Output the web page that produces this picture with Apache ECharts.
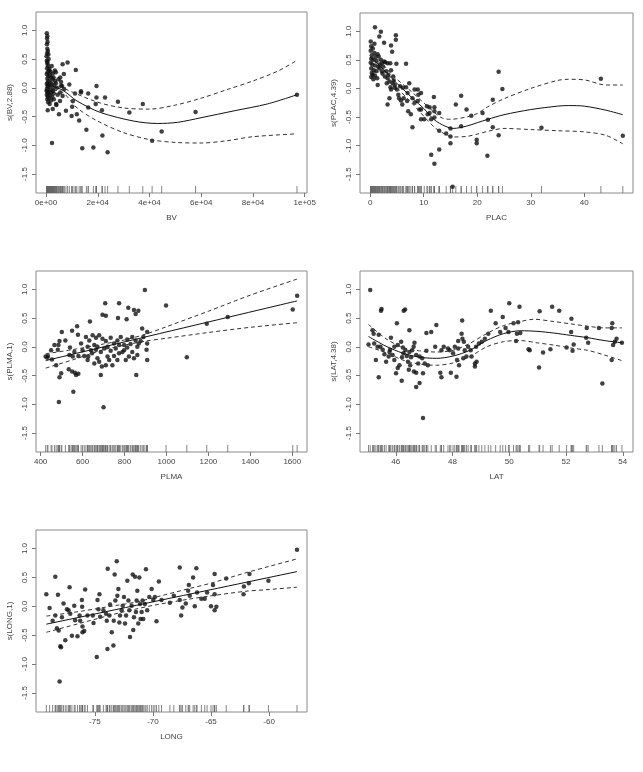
<!DOCTYPE html>
<html>
<head>
<meta charset="utf-8">
<script src="https://cdn.jsdelivr.net/npm/echarts@6/dist/echarts.min.js"></script>
<style>
html, body { margin: 0; padding: 0; background: #fff; }
#main { width: 643px; height: 772px; }
</style>
</head>
<body>
<div id="main"></div>
<script>
// shared y scale of the partial residual plots
var yMin = -1.83, yMax = 1.32;
var yTicks = [-1.5, -1, -0.5, 0, 0.5, 1];

// ---- BV ----
var bvTicks = [0, 20000, 40000, 60000, 80000, 100000];
var bvPoints = [
	[300,0.95],[500,0.90],[400,0.86],[600,0.80],[350,0.76],[500,0.68],[700,0.64],[450,0.60],[900,0.58],
	[300,0.47],[500,0.42],[800,0.38],[400,0.34],[1200,0.30],[600,0.27],[300,0.24],[1500,0.22],[900,0.20],
	[2000,0.18],[500,0.16],[2500,0.15],[1100,0.12],[700,0.10],[1800,0.09],[300,0.07],[2200,0.06],[1000,0.04],
	[600,0.03],[1500,0.01],[400,-0.01],[2800,-0.02],[800,-0.04],[1300,-0.05],[500,-0.07],[2000,-0.08],[900,-0.10],
	[300,-0.12],[1600,-0.13],[700,-0.15],[2400,-0.16],[1100,-0.18],[500,-0.20],[1900,-0.22],[800,-0.25],[3000,-0.10],
	[3200,0.05],[3500,0.12],[3000,-0.20],[2600,0.25],[4200,0.00],[4500,-0.12],[3800,0.08],[1300,0.33],[200,0.55],
	[1000,0.50],[2200,0.38],[3400,0.30],[2700,-0.05],[4800,0.15],[4000,-0.30],[1400,-0.28],[600,0.45],[1700,0.28],
	[2900,0.18],[200,-0.05],[5500,-0.08],[6200,0.03],[7000,-0.02],[5800,0.10],
	[6400,0.41],[8330,0.44],[11500,0.31],[6900,0.24],[19500,0.03],[13500,-0.08],[16300,-0.10],[19500,-0.17],
	[22800,-0.17],[27800,-0.24],[19200,-0.28],[21600,-0.39],[32200,-0.43],[37400,-0.28],[57800,-0.42],[44700,-0.76],
	[41000,-0.92],[97000,-0.12],[15600,-0.73],[21800,-0.83],[14000,-1.05],[18300,-1.04],[23800,-1.12],[2300,-0.96],
	[12800,-0.57],[9900,-0.49],[11900,-0.46],[5000,-0.46],[10100,-0.33],[16300,-0.34],[7700,-0.40],[650,-0.39],
	[2600,-0.37],[10400,-0.23],[9000,0.06],[5800,0.03],[11200,-0.10],[13500,-0.06],[5400,-0.23],[3900,-0.28],
	[6400,-0.14],[5500,0.18],[3800,0.27]
];
var bvFit = [[0,0.06],[6400,-0.04],[12000,-0.23],[21100,-0.43],[34100,-0.58],[43100,-0.62],[50900,-0.60],[59900,-0.52],[72700,-0.40],[85600,-0.28],[97000,-0.12]];
var bvUpper = [[0,0.14],[6400,0.00],[20000,-0.25],[30000,-0.35],[40000,-0.37],[50000,-0.30],[60000,-0.18],[70000,-0.03],[80000,0.12],[90000,0.30],[97000,0.48]];
var bvLower = [[0,-0.02],[6400,-0.08],[12000,-0.35],[20000,-0.58],[30000,-0.78],[40000,-0.90],[50000,-0.95],[60000,-0.96],[70000,-0.92],[80000,-0.85],[97000,-0.80]];

// ---- PLAC ----
var placTicks = [0, 10, 20, 30, 40];
var placPoints = [
	[0.1,0.82],[0.2,0.74],[0.5,0.70],[0.1,0.66],[0.8,0.62],[0.3,0.58],[1.0,0.55],[0.2,0.52],[0.6,0.50],[1.2,0.48],
	[0.1,0.45],[0.4,0.42],[0.9,0.40],[1.5,0.38],[0.2,0.35],[0.7,0.32],[1.1,0.30],[0.3,0.27],[0.5,0.24],[0.9,0.22],
	[0.2,0.20],[1.3,0.18],[0.6,0.16],[1.8,0.42],[2.0,0.50],[2.4,0.38],[1.6,0.56],[2.8,0.46],[3.0,0.30],[3.4,0.24],
	[3.6,0.12],[4.4,0.14],[4.6,0.06],[3.8,0.02],[5.6,0.04],[1.4,0.60],[0.8,0.78],[2.2,0.30],
	[0.9,1.07],[2.0,0.99],[1.7,0.91],[2.6,0.80],[4.8,0.93],[4.8,0.85],[3.9,0.75],[4.1,0.64],[4.9,0.43],[6.7,0.43],
	[1.4,0.06],[3.25,0.18],[3.25,-0.28],[7.9,-0.68],[17,-0.13],[16,-0.28],[18,-0.37],[18.9,-0.48],[17,-0.66],
	[19.9,-0.90],[19.9,-0.96],[22,-0.55],[21.9,-1.18],[22.9,-0.20],[24,0.29],[24.7,-0.01],[22.9,-0.68],[24,-0.82],
	[21,-0.43],[32,-0.69],[43.1,0.17],[47.2,-0.83],[15.4,-1.72],[11.4,-1.16],[12,-1.32],[12.9,-1.07],[15,-0.96],
	[15,-0.84],[15,-0.70],[14.2,-0.79],[12.9,-0.74],[12.9,-0.43],[12,-0.51],[12,-0.40],[12,-0.33],[11.9,-0.15],
	[11.1,-0.43],[11.1,-0.33],[10.1,-0.54],[9.5,-0.54],[9.2,-0.37],[8.9,-0.22],[9,-0.11],[8.9,-0.02],[8.3,-0.25],
	[7.9,-0.17],[7.6,-0.45],[7.1,-0.40],[6.7,0.02],[6.1,0.01],[6.25,-0.17],[5.75,-0.21],[5.25,-0.11],[5.0,-0.02],
	[4.2,0.09],[3.9,-0.02],[3.6,-0.17],[4.3,0.21],[3.9,0.32],[3.25,0.44],[2.6,0.47],[2.2,0.44],[1.7,0.35],[2.3,0.26],
	[2.75,0.21],[3.1,0.09],[3.75,0.44],[7,-0.08],[7.3,0.09],[8.3,-0.02],[9.5,-0.08],[10.6,-0.31],[10.75,-0.45],
	[11.4,-0.54],[9.5,-0.37],[6.9,-0.22],[6,-0.28],[5.4,-0.17],[4.6,0.01]
];
var placFit = [[0,0.55],[2,0.38],[4,0.18],[6,0.0],[8,-0.18],[10,-0.35],[12,-0.55],[14,-0.66],[15.5,-0.70],[18,-0.66],[20,-0.60],[22,-0.54],[25,-0.46],[30,-0.37],[35,-0.31],[37,-0.30],[40,-0.31],[44,-0.38],[47.2,-0.46]];
var placUpper = [[0,0.70],[4,0.25],[8,-0.08],[12,-0.42],[13.5,-0.52],[15,-0.54],[18,-0.50],[20,-0.44],[22,-0.32],[25,-0.18],[30,0.0],[35,0.14],[37,0.16],[40,0.15],[44,0.06],[47.2,0.06]];
var placLower = [[0,0.40],[4,0.10],[8,-0.28],[12,-0.68],[14,-0.80],[15.5,-0.85],[18,-0.84],[20,-0.80],[22,-0.75],[25,-0.70],[30,-0.72],[35,-0.74],[40,-0.76],[44,-0.82],[47.2,-0.97]];

// ---- PLMA ----
var plmaTicks = [400, 600, 800, 1000, 1200, 1400, 1600];
var plmaPoints = [
	[897,0.99],[708,0.76],[774,0.76],[998,0.72],[818,0.68],[845,0.64],[866,0.63],[853,0.57],[695,0.56],[711,0.54],
	[769,0.50],[810,0.48],[635,0.44],[574,0.36],[550,0.28],[501,0.26],[578,0.21],[1292,0.52],[1192,0.40],[1602,0.65],
	[1623,0.89],[1097,-0.18],[487,-0.96],[700,-1.05],[556,-0.78],[490,-0.53],[498,-0.46],[534,-0.39],[550,-0.43],
	[564,-0.45],[580,-0.47],[569,-0.49],[856,-0.49],[687,-0.49],[908,-0.23],[435,-0.16],[454,-0.22],[474,-0.32],
	[482,-0.05],[485,0.03],[490,0.10],[518,0.11],[540,-0.01],[561,-0.09],[580,-0.16],[627,-0.17],[645,-0.11],
	[664,-0.05],[679,-0.26],[692,-0.34],[711,-0.32],[727,-0.23],[750,-0.16],[774,-0.11],[798,-0.06],[821,-0.17],
	[837,-0.09],[861,0.0],[877,0.10],[890,0.17],[908,0.26],[884,0.32],[908,0.06],[905,-0.05],[616,0.17],[632,0.11],
	[648,0.20],[664,0.16],[679,0.20],[695,0.14],[711,0.10],[734,0.16],[750,0.06],[766,0.11],[782,0.17],[798,0.03],
	[813,0.13],[837,0.17],[853,0.11],[868,0.06],[624,0.0],[640,-0.06],[656,0.03],[671,0.0],[687,-0.09],[703,-0.03],
	[719,0.0],[734,-0.07],[758,-0.03],[774,0.03],[790,-0.09],[813,-0.01],[829,0.05],[624,-0.23],[656,-0.29],
	[671,-0.20],[719,-0.17],[742,-0.32],[766,-0.23],[806,-0.23],[845,-0.20],[861,-0.14],[450,-0.06],[466,0.03],
	[537,-0.14],[553,-0.17],[600,-0.06],[608,-0.16],[593,0.06],[432,-0.19],[424,-0.17]
];
var plmaFit = [[424,-0.24],[1623,0.80]];
var plmaUpper = [[424,-0.12],[550,-0.05],[700,0.05],[800,0.12],[900,0.22],[1000,0.35],[1200,0.62],[1400,0.90],[1623,1.18]];
var plmaLower = [[424,-0.37],[550,-0.23],[700,-0.05],[800,0.03],[900,0.10],[1000,0.15],[1200,0.25],[1400,0.34],[1623,0.42]];

// ---- LAT ----
var latTicks = [46, 48, 50, 52, 54];
var latPoints = [
	[45.10,0.99],[45.48,0.63],[45.50,0.66],[46.28,0.63],[46.33,0.65],[46.04,0.41],[46.48,0.29],[47.43,0.38],[47.08,0.24],
	[47.25,0.26],[48.34,0.46],[49.35,0.63],[50.0,0.76],[50.36,0.70],[49.77,0.52],[50.15,0.41],[50.31,0.43],[51.07,0.62],
	[51.51,0.70],[51.76,0.63],[52.19,0.49],[52.73,0.33],[53.16,0.33],[53.61,0.33],[53.63,0.41],[53.97,0.07],[53.61,-0.23],
	[53.28,-0.64],[51.05,-0.36],[51.19,-0.10],[51.45,-0.04],[50.68,-0.04],[50.72,-0.06],[52.02,-0.01],[52.23,-0.07],
	[52.27,0.04],[52.18,0.26],[52.71,0.16],[52.78,0.07],[53.78,0.14],[53.72,0.09],[53.66,0.03],[50.24,0.10],[50.39,0.24],
	[50.27,0.23],[49.97,0.26],[49.87,0.33],[49.68,0.26],[49.52,0.41],[49.26,0.23],[49.14,0.14],[49.03,0.09],[48.93,0.06],
	[48.83,0.0],[48.79,-0.29],[48.79,-0.34],[48.85,-0.26],[48.67,-0.17],[48.64,-0.06],[48.55,0.0],[48.43,-0.06],
	[48.49,-0.17],[48.38,-0.20],[48.40,0.09],[48.35,0.14],[48.32,0.23],[48.20,0.10],[48.20,-0.03],[48.16,-0.23],
	[48.23,-0.32],[48.02,-0.11],[48.08,0.0],[48.14,-0.52],[47.90,-0.06],[47.84,-0.03],[47.69,0.0],[47.61,-0.06],
	[47.57,-0.45],[47.61,-0.53],[47.94,-0.45],[47.39,0.0],[46.96,-0.46],[46.93,-0.20],[46.84,-0.17],[46.79,-0.29],
	[46.72,-0.14],[46.66,0.07],[46.63,0.0],[46.58,-0.06],[46.54,-0.18],[46.51,-0.32],[46.43,-0.26],[46.46,-0.40],
	[46.64,-0.43],[46.72,-0.45],[46.84,-0.63],[46.72,-0.70],[46.96,-1.24],[46.21,-0.59],[46.01,-0.46],[46.07,-0.37],
	[46.13,-0.32],[46.22,-0.18],[46.27,-0.11],[46.34,-0.06],[46.25,-0.01],[46.19,0.09],[46.07,0.03],[45.95,0.0],
	[45.80,-0.05],[45.78,-0.09],[45.75,-0.17],[45.83,0.16],[45.66,-0.26],[45.60,-0.13],[45.54,-0.05],[45.46,0.0],
	[45.40,0.21],[45.30,-0.23],[45.40,-0.53],[45.24,0.06],[45.18,0.29],[45.22,0.23],[45.04,0.04],[45.36,0.0],
	[47.08,-0.07],[47.02,-0.29],[47.13,-0.32],[46.48,-0.09],[46.39,-0.16],[45.95,-0.23],[45.89,-0.14]
];
var latFit = [[45.04,0.18],[45.66,0.01],[46.25,-0.11],[46.84,-0.18],[47.43,-0.20],[48.02,-0.16],[48.61,-0.06],[49.2,0.11],[49.8,0.23],[50.39,0.28],[50.98,0.27],[51.57,0.24],[52.16,0.20],[52.75,0.16],[53.34,0.11],[53.97,0.07]];
var latUpper = [[45.04,0.39],[45.66,0.14],[46.25,-0.01],[46.84,-0.07],[47.43,-0.09],[48.02,-0.06],[48.61,0.06],[49.2,0.23],[49.8,0.37],[50.39,0.44],[50.86,0.48],[51.57,0.44],[52.16,0.40],[52.75,0.36],[53.34,0.33],[53.97,0.33]];
var latLower = [[45.04,0.0],[45.66,-0.10],[46.25,-0.23],[46.84,-0.30],[47.43,-0.32],[48.02,-0.28],[48.61,-0.17],[49.2,0.0],[49.8,0.09],[50.39,0.11],[50.98,0.07],[51.57,0.03],[52.16,-0.02],[52.75,-0.06],[53.34,-0.14],[53.97,-0.24]];

// ---- LONG ----
var longTicks = [-75, -70, -65, -60];
var longPoints = [
	[-79.17,0.21],[-78.89,-0.03],[-78.63,-0.25],[-78.4,0.51],[-78.4,-0.16],[-78.26,-0.38],[-78.11,-0.42],[-78.17,0.20],
	[-78.03,-1.30],[-77.91,-0.71],[-77.97,-0.69],[-77.83,-0.19],[-77.69,0.05],[-77.54,-0.59],[-77.4,-0.05],[-77.26,-0.07],
	[-77.17,0.33],[-77.11,-0.13],[-76.97,-0.51],[-76.77,0.01],[-76.69,-0.24],[-76.49,-0.52],[-76.31,-0.16],[-76.26,-0.25],
	[-76.11,0.11],[-76.09,-0.01],[-76.06,-0.35],[-76.06,-0.45],[-75.91,-0.43],[-75.83,0.29],[-75.63,-0.16],[-75.17,-0.16],
	[-75.11,-0.29],[-74.83,-0.88],[-74.77,0.11],[-74.69,-0.05],[-74.6,0.21],[-74.54,-0.18],[-74.26,-0.07],[-74.03,-0.13],
	[-73.97,-0.25],[-73.91,-0.74],[-73.89,0.65],[-73.74,-0.16],[-73.69,0.03],[-73.54,-0.45],[-73.4,-0.68],[-73.37,-0.25],
	[-73.29,0.55],[-73.23,0.10],[-73.11,0.78],[-73.06,0.18],[-72.97,0.30],[-72.89,-0.28],[-72.83,-0.16],[-72.69,-0.07],
	[-72.6,0.01],[-72.49,0.16],[-72.4,-0.30],[-72.31,-0.16],[-72.2,0.44],[-72.11,0.10],[-72.03,-0.07],[-71.97,-0.53],
	[-71.83,0.01],[-71.74,0.55],[-71.69,-0.41],[-71.63,-0.19],[-71.54,0.51],[-71.46,-0.10],[-71.4,0.10],[-71.34,0.27],
	[-71.26,-0.30],[-71.17,0.50],[-71.11,0.04],[-71.06,-0.22],[-70.97,-0.10],[-70.89,0.10],[-70.83,-0.22],[-70.69,0.04],
	[-70.6,0.64],[-70.49,-0.07],[-70.31,0.16],[-70.11,0.30],[-69.97,0.11],[-69.83,0.16],[-69.69,-0.26],[-69.49,0.43],
	[-69.26,0.11],[-68.54,0.06],[-68.2,0.18],[-67.69,0.67],[-67.69,0.11],[-67.57,-0.16],[-67.46,-0.02],[-67.17,0.05],
	[-66.97,0.27],[-66.91,0.37],[-66.83,0.18],[-66.54,0.50],[-66.4,0.0],[-66.26,0.66],[-66.2,0.24],[-65.83,0.13],
	[-65.54,0.13],[-65.34,0.24],[-65.0,0.0],[-64.83,0.37],[-64.69,-0.07],[-64.69,0.56],[-64.69,0.21],[-64.54,-0.01],
	[-63.69,0.48],[-62.2,0.21],[-62.17,0.34],[-61.74,0.40],[-61.69,0.56],[-60.06,0.44],[-57.6,0.98]
];
var longFit = [[-79.17,-0.31],[-57.6,0.60]];
var longUpper = [[-79.17,-0.17],[-76,-0.08],[-73,0.02],[-71.5,0.07],[-70,0.145],[-67,0.30],[-65,0.40],[-62,0.58],[-60,0.69],[-57.6,0.82]];
var longLower = [[-79.17,-0.45],[-76,-0.28],[-73,-0.12],[-71.5,-0.05],[-70,0.015],[-67,0.12],[-65,0.18],[-62,0.26],[-60,0.29],[-57.6,0.33]];

var panels = [
	{ grid: { left: 36, top: 12, width: 271, height: 181 }, xMin: -3880, xMax: 100880, xTicks: bvTicks, xName: 'BV', yName: 's(BV,2.88)',
	  points: bvPoints, fit: bvFit, upper: bvUpper, lower: bvLower, smooth: true, sci: true },
	{ grid: { left: 360, top: 13, width: 273, height: 180 }, xMin: -1.9, xMax: 49.1, xTicks: placTicks, xName: 'PLAC', yName: 's(PLAC,4.39)',
	  points: placPoints, fit: placFit, upper: placUpper, lower: placLower, smooth: true },
	{ grid: { left: 36, top: 271, width: 271, height: 181 }, xMin: 378, xMax: 1670, xTicks: plmaTicks, xName: 'PLMA', yName: 's(PLMA,1)',
	  points: plmaPoints, fit: plmaFit, upper: plmaUpper, lower: plmaLower, smooth: true },
	{ grid: { left: 360, top: 271, width: 273, height: 181 }, xMin: 44.74, xMax: 54.36, xTicks: latTicks, xName: 'LAT', yName: 's(LAT,4.38)',
	  points: latPoints, fit: latFit, upper: latUpper, lower: latLower, smooth: true },
	{ grid: { left: 36, top: 530, width: 271, height: 182 }, xMin: -80.06, xMax: -56.74, xTicks: longTicks, xName: 'LONG', yName: 's(LONG,1)',
	  points: longPoints, fit: longFit, upper: longUpper, lower: longLower, smooth: true }
];

function sciLabel(v) {
	if (v == 0) return '0e+00';
	var e = Math.floor(Math.log10(Math.abs(v)));
	var m = Math.round(v / Math.pow(10, e));
	return m + 'e+' + (e < 10 ? '0' + e : e);
}

var textStyle = { fontFamily: 'Liberation Sans, Arial, sans-serif', fontSize: 8, color: '#444' };
var grids = [], xAxes = [], yAxes = [], series = [];

panels.forEach(function(p, i) {
	grids.push(Object.assign({ show: true, borderColor: '#8a8a8a', borderWidth: 1, backgroundColor: '#fff' }, p.grid));
	xAxes.push({
		gridIndex: i, type: 'value', min: p.xMin, max: p.xMax, position: 'bottom',
		name: p.xName, nameLocation: 'middle', nameGap: 21, nameTextStyle: textStyle,
		axisLine: { show: false, onZero: false },
		axisTick: { show: true, length: 4, customValues: p.xTicks, lineStyle: { color: '#777' } },
		axisLabel: Object.assign({ margin: 6, customValues: p.xTicks, showMinLabel: true, showMaxLabel: true,
			formatter: p.sci ? sciLabel : function(v) { return String(v); } }, textStyle),
		splitLine: { show: false }
	});
	yAxes.push({
		gridIndex: i, type: 'value', min: yMin, max: yMax, position: 'left',
		name: p.yName, nameLocation: 'middle', nameGap: 22, nameTextStyle: textStyle,
		axisLine: { show: false, onZero: false },
		axisTick: { show: true, length: 4, customValues: yTicks, lineStyle: { color: '#777' } },
		axisLabel: Object.assign({ margin: 7, rotate: 90, customValues: yTicks,
			formatter: function(v) { return v.toFixed(1); } }, textStyle),
		splitLine: { show: false }
	});
	// rug along the bottom of the plot box
	series.push({
		type: 'scatter', xAxisIndex: i, yAxisIndex: i, silent: true,
		symbol: 'rect', symbolSize: [1, 7], symbolOffset: [0, -3.5],
		itemStyle: { color: '#666', opacity: 0.8 },
		data: p.points.map(function(pt) { return [pt[0], yMin]; })
	});
	series.push({
		type: 'scatter', xAxisIndex: i, yAxisIndex: i, silent: true,
		symbol: 'circle', symbolSize: 4.5, itemStyle: { color: '#111' },
		data: p.points
	});
	[[p.upper, 'dashed'], [p.lower, 'dashed'], [p.fit, 'solid']].forEach(function(l) {
		series.push({
			type: 'line', xAxisIndex: i, yAxisIndex: i, silent: true, showSymbol: false,
			smooth: p.smooth ? 0.3 : false,
			lineStyle: { color: l[1] == 'solid' ? '#111' : '#333', width: 1, type: l[1] == 'solid' ? 'solid' : [4, 3] },
			data: l[0]
		});
	});
});

var chart = echarts.init(document.getElementById('main'), null, { renderer: 'canvas' });
chart.setOption({
	animation: false,
	backgroundColor: '#fff',
	grid: grids,
	xAxis: xAxes,
	yAxis: yAxes,
	series: series
});
</script>
</body>
</html>
